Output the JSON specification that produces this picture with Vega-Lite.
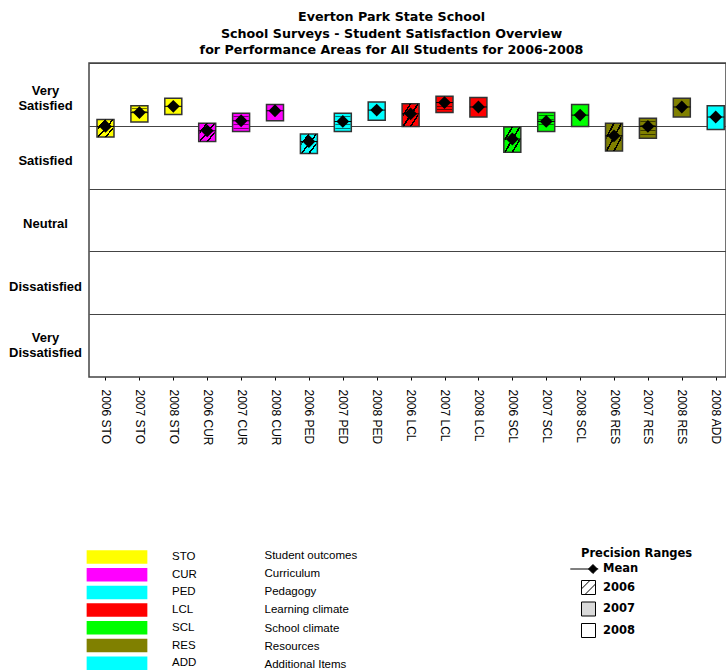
{
  "$schema": "https://vega.github.io/schema/vega-lite/v6.json",
  "width": 637,
  "height": 314,
  "autosize": {"type": "none"},
  "padding": {"left": 89, "top": 63, "right": 0, "bottom": 294},
  "background": "white",
  "title": {
    "text": ["Everton Park State School", "School Surveys - Student Satisfaction Overview", "for Performance Areas for All Students for 2006-2008"],
    "font": "DejaVu Sans", "fontSize": 12.7, "fontWeight": "bold", "lineHeight": 16.5,
    "anchor": "middle", "dx": -16, "offset": 6, "color": "black"
  },
  "config": {"view": {"stroke": "#444", "strokeWidth": 1.5}},
  "datasets": {
    "boxes": [
      {"label": "2006 STO", "area": "STO", "year": 2006, "lo": 3.82, "hi": 4.10, "mean": 3.99},
      {"label": "2007 STO", "area": "STO", "year": 2007, "lo": 4.06, "hi": 4.32, "mean": 4.21},
      {"label": "2008 STO", "area": "STO", "year": 2008, "lo": 4.18, "hi": 4.44, "mean": 4.31},
      {"label": "2006 CUR", "area": "CUR", "year": 2006, "lo": 3.75, "hi": 4.04, "mean": 3.92},
      {"label": "2007 CUR", "area": "CUR", "year": 2007, "lo": 3.91, "hi": 4.20, "mean": 4.08},
      {"label": "2008 CUR", "area": "CUR", "year": 2008, "lo": 4.08, "hi": 4.34, "mean": 4.24},
      {"label": "2006 PED", "area": "PED", "year": 2006, "lo": 3.56, "hi": 3.87, "mean": 3.75},
      {"label": "2007 PED", "area": "PED", "year": 2007, "lo": 3.91, "hi": 4.20, "mean": 4.07},
      {"label": "2008 PED", "area": "PED", "year": 2008, "lo": 4.09, "hi": 4.38, "mean": 4.25},
      {"label": "2006 LCL", "area": "LCL", "year": 2006, "lo": 3.99, "hi": 4.35, "mean": 4.19},
      {"label": "2007 LCL", "area": "LCL", "year": 2007, "lo": 4.21, "hi": 4.47, "mean": 4.37},
      {"label": "2008 LCL", "area": "LCL", "year": 2008, "lo": 4.14, "hi": 4.45, "mean": 4.30},
      {"label": "2006 SCL", "area": "SCL", "year": 2006, "lo": 3.58, "hi": 3.98, "mean": 3.79},
      {"label": "2007 SCL", "area": "SCL", "year": 2007, "lo": 3.91, "hi": 4.21, "mean": 4.07},
      {"label": "2008 SCL", "area": "SCL", "year": 2008, "lo": 3.99, "hi": 4.34, "mean": 4.17},
      {"label": "2006 RES", "area": "RES", "year": 2006, "lo": 3.60, "hi": 4.04, "mean": 3.84},
      {"label": "2007 RES", "area": "RES", "year": 2007, "lo": 3.80, "hi": 4.12, "mean": 3.99},
      {"label": "2008 RES", "area": "RES", "year": 2008, "lo": 4.14, "hi": 4.44, "mean": 4.30},
      {"label": "2008 ADD", "area": "ADD", "year": 2008, "lo": 3.94, "hi": 4.32, "mean": 4.14}
    ],
    "descs": [
      {"desc": "Student outcomes"}, {"desc": "Curriculum"}, {"desc": "Pedagogy"},
      {"desc": "Learning climate"}, {"desc": "School climate"}, {"desc": "Resources"},
      {"desc": "Additional Items"}
    ],
    "precision": [{"p": "Mean"}, {"p": "2006"}, {"p": "2007"}, {"p": "2008"}]
  },
  "layer": [
    {
      "data": {"name": "boxes"},
      "mark": {"type": "bar", "size": 17, "stroke": "#333", "strokeWidth": 1.5},
      "encoding": {
        "x": {
          "field": "label", "type": "nominal", "sort": null,
          "scale": {"type": "point", "padding": 0.395, "align": 0.616},
          "axis": {
            "title": null, "labelAngle": 90, "labelAlign": "left", "labelBaseline": "middle",
            "labelFont": "Liberation Sans", "labelFontSize": 12, "labelColor": "black",
            "tickColor": "black", "tickSize": 3, "labelPadding": 9, "domain": false, "grid": false
          }
        },
        "y": {
          "field": "lo", "type": "quantitative",
          "scale": {"domain": [0, 5], "nice": false, "zero": false},
          "axis": {
            "title": null, "values": [1, 2, 3, 4, 5], "grid": true, "gridColor": "#444", "gridWidth": 1,
            "ticks": false, "tickSize": 0, "domain": false,
            "labelExpr": "datum.value == 5 ? ['Very', 'Satisfied'] : datum.value == 4 ? 'Satisfied' : datum.value == 3 ? 'Neutral' : datum.value == 2 ? 'Dissatisfied' : ['Very', 'Dissatisfied']",
            "labelOffset": {"condition": [{"test": "datum.value == 5", "value": 27}, {"test": "datum.value == 1", "value": 23}], "value": 35},
            "labelAlign": "center", "labelBaseline": "middle", "labelPadding": 44,
            "labelFont": "Liberation Sans", "labelFontSize": 13, "labelFontWeight": "bold", "labelColor": "black",
            "labelLineHeight": 15.5, "labelOverlap": false, "labelBound": false, "labelFlush": false
          }
        },
        "y2": {"field": "hi"},
        "fill": {
          "field": "area", "type": "nominal",
          "scale": {
            "domain": ["STO", "CUR", "PED", "LCL", "SCL", "RES", "ADD"],
            "range": ["#ffff00", "#ff00ff", "#00ffff", "#ff0000", "#00ff00", "#808000", "#00ffff"]
          },
          "legend": {
            "title": null, "orient": "none", "legendX": 21, "legendY": 487, "direction": "vertical",
            "symbolType": "M-4.5,-1H4.5V1H-4.5Z", "symbolSize": 182, "symbolStrokeWidth": 0,
            "labelFont": "Liberation Sans", "labelFontSize": 11.5, "labelColor": "black",
            "labelOffset": 48, "rowPadding": 3.7, "padding": 0
          }
        }
      }
    },
    {
      "data": {"name": "boxes"},
      "transform": [{"filter": "datum.year == 2006"}],
      "mark": {
        "type": "bar", "size": 15,
        "fill": {
          "gradient": "linear", "x1": 0, "y1": 0, "x2": 1, "y2": 1,
          "stops": [
            {"offset": 0, "color": "rgba(0,0,0,0)"},
            {"offset": 0.22, "color": "rgba(0,0,0,0)"},
            {"offset": 0.22, "color": "black"},
            {"offset": 0.28, "color": "black"},
            {"offset": 0.28, "color": "rgba(0,0,0,0)"},
            {"offset": 0.47, "color": "rgba(0,0,0,0)"},
            {"offset": 0.47, "color": "black"},
            {"offset": 0.53, "color": "black"},
            {"offset": 0.53, "color": "rgba(0,0,0,0)"},
            {"offset": 0.72, "color": "rgba(0,0,0,0)"},
            {"offset": 0.72, "color": "black"},
            {"offset": 0.78, "color": "black"},
            {"offset": 0.78, "color": "rgba(0,0,0,0)"},
            {"offset": 1, "color": "rgba(0,0,0,0)"}
          ]
        }
      },
      "encoding": {
        "x": {"field": "label", "type": "nominal", "sort": null},
        "y": {"field": "lo", "type": "quantitative"},
        "y2": {"field": "hi"}
      }
    },
    {
      "data": {"name": "boxes"},
      "transform": [{"filter": "datum.year == 2007"}],
      "mark": {
        "type": "bar", "size": 15,
        "fill": {
          "gradient": "linear", "x1": 0, "y1": 0, "x2": 0, "y2": 1,
          "stops": [
            {"offset": 0, "color": "rgba(0,0,0,0)"},
            {"offset": 0.15, "color": "rgba(0,0,0,0)"},
            {"offset": 0.15, "color": "rgba(0,0,0,0.55)"},
            {"offset": 0.19, "color": "rgba(0,0,0,0.55)"},
            {"offset": 0.19, "color": "rgba(0,0,0,0)"},
            {"offset": 0.35, "color": "rgba(0,0,0,0)"},
            {"offset": 0.35, "color": "rgba(0,0,0,0.55)"},
            {"offset": 0.39, "color": "rgba(0,0,0,0.55)"},
            {"offset": 0.39, "color": "rgba(0,0,0,0)"},
            {"offset": 0.6, "color": "rgba(0,0,0,0)"},
            {"offset": 0.6, "color": "rgba(0,0,0,0.55)"},
            {"offset": 0.64, "color": "rgba(0,0,0,0.55)"},
            {"offset": 0.64, "color": "rgba(0,0,0,0)"},
            {"offset": 0.8, "color": "rgba(0,0,0,0)"},
            {"offset": 0.8, "color": "rgba(0,0,0,0.55)"},
            {"offset": 0.84, "color": "rgba(0,0,0,0.55)"},
            {"offset": 0.84, "color": "rgba(0,0,0,0)"},
            {"offset": 1, "color": "rgba(0,0,0,0)"}
          ]
        }
      },
      "encoding": {
        "x": {"field": "label", "type": "nominal", "sort": null},
        "y": {"field": "lo", "type": "quantitative"},
        "y2": {"field": "hi"}
      }
    },
    {
      "data": {"name": "boxes"},
      "mark": {"type": "tick", "orient": "horizontal", "size": 17, "thickness": 1, "color": "black", "opacity": 1},
      "encoding": {
        "x": {"field": "label", "type": "nominal", "sort": null},
        "y": {"field": "mean", "type": "quantitative"}
      }
    },
    {
      "data": {"name": "boxes"},
      "mark": {"type": "point", "shape": "diamond", "filled": true, "color": "black", "size": 165, "opacity": 1},
      "encoding": {
        "x": {"field": "label", "type": "nominal", "sort": null},
        "y": {"field": "mean", "type": "quantitative"}
      }
    },
    {
      "data": {"name": "descs"},
      "mark": {"type": "point", "opacity": 0},
      "encoding": {
        "opacity": {
          "field": "desc", "type": "nominal",
          "scale": {"domain": ["Student outcomes", "Curriculum", "Pedagogy", "Learning climate", "School climate", "Resources", "Additional Items"], "range": [0, 0, 0, 0, 0, 0, 0]},
          "legend": {
            "title": null, "orient": "none", "legendX": 164, "legendY": 487, "direction": "vertical",
            "values": ["Student outcomes", "Curriculum", "Pedagogy", "Learning climate", "School climate", "Resources", "Additional Items"],
            "symbolSize": 0, "symbolStrokeWidth": 0, "labelOffset": 0,
            "labelFont": "Liberation Sans", "labelFontSize": 11.5, "labelColor": "black",
            "rowPadding": 5.2, "padding": 0
          }
        }
      }
    },
    {
      "data": {"name": "precision"},
      "mark": {"type": "point", "opacity": 0, "filled": true, "stroke": "black", "strokeWidth": 1},
      "encoding": {
        "shape": {
          "field": "p", "type": "nominal",
          "scale": {
            "domain": ["Mean", "2006", "2007", "2008"],
            "range": [
              "M-2.6,0H1.4M0,0L0.64,-0.64L1.28,0L0.64,0.64Z",
              "M-1,-1H1V1H-1ZM-1,0.2L0.2,-1M-0.5,1L1,-0.5",
              "M-1,-1H1V1H-1Z",
              "M-1,-1H1V1H-1Z"
            ]
          },
          "legend": {
            "title": "Precision Ranges", "orient": "none", "legendX": 492, "legendY": 485, "direction": "vertical",
            "titleFont": "DejaVu Sans", "titleFontSize": 11.5, "titleFontWeight": "bold", "titleColor": "black", "titlePadding": 2,
            "labelFont": "DejaVu Sans", "labelFontSize": 11.5, "labelFontWeight": "bold", "labelColor": "black",
            "labelOffset": 7, "symbolSize": 196, "symbolStrokeColor": "black", "symbolStrokeWidth": 1, "symbolOpacity": 1,
            "rowPadding": 2.5, "padding": 0,
            "encode": {"symbols": {"update": {"stroke": {"value": "black"}, "strokeWidth": {"value": 1}, "opacity": {"value": 1}}}}
          }
        },
        "color": {
          "field": "p", "type": "nominal",
          "scale": {"domain": ["Mean", "2006", "2007", "2008"], "range": ["black", "white", "#dadada", "white"]},
          "legend": {
            "title": "Precision Ranges", "orient": "none", "legendX": 492, "legendY": 485, "direction": "vertical",
            "titleFont": "DejaVu Sans", "titleFontSize": 11.5, "titleFontWeight": "bold", "titleColor": "black", "titlePadding": 2,
            "labelFont": "DejaVu Sans", "labelFontSize": 11.5, "labelFontWeight": "bold", "labelColor": "black",
            "labelOffset": 7, "symbolSize": 196, "symbolStrokeColor": "black", "symbolStrokeWidth": 1, "symbolOpacity": 1,
            "rowPadding": 2.5, "padding": 0,
            "encode": {"symbols": {"update": {"stroke": {"value": "black"}, "strokeWidth": {"value": 1}, "opacity": {"value": 1}}}}
          }
        }
      }
    }
  ]
}
